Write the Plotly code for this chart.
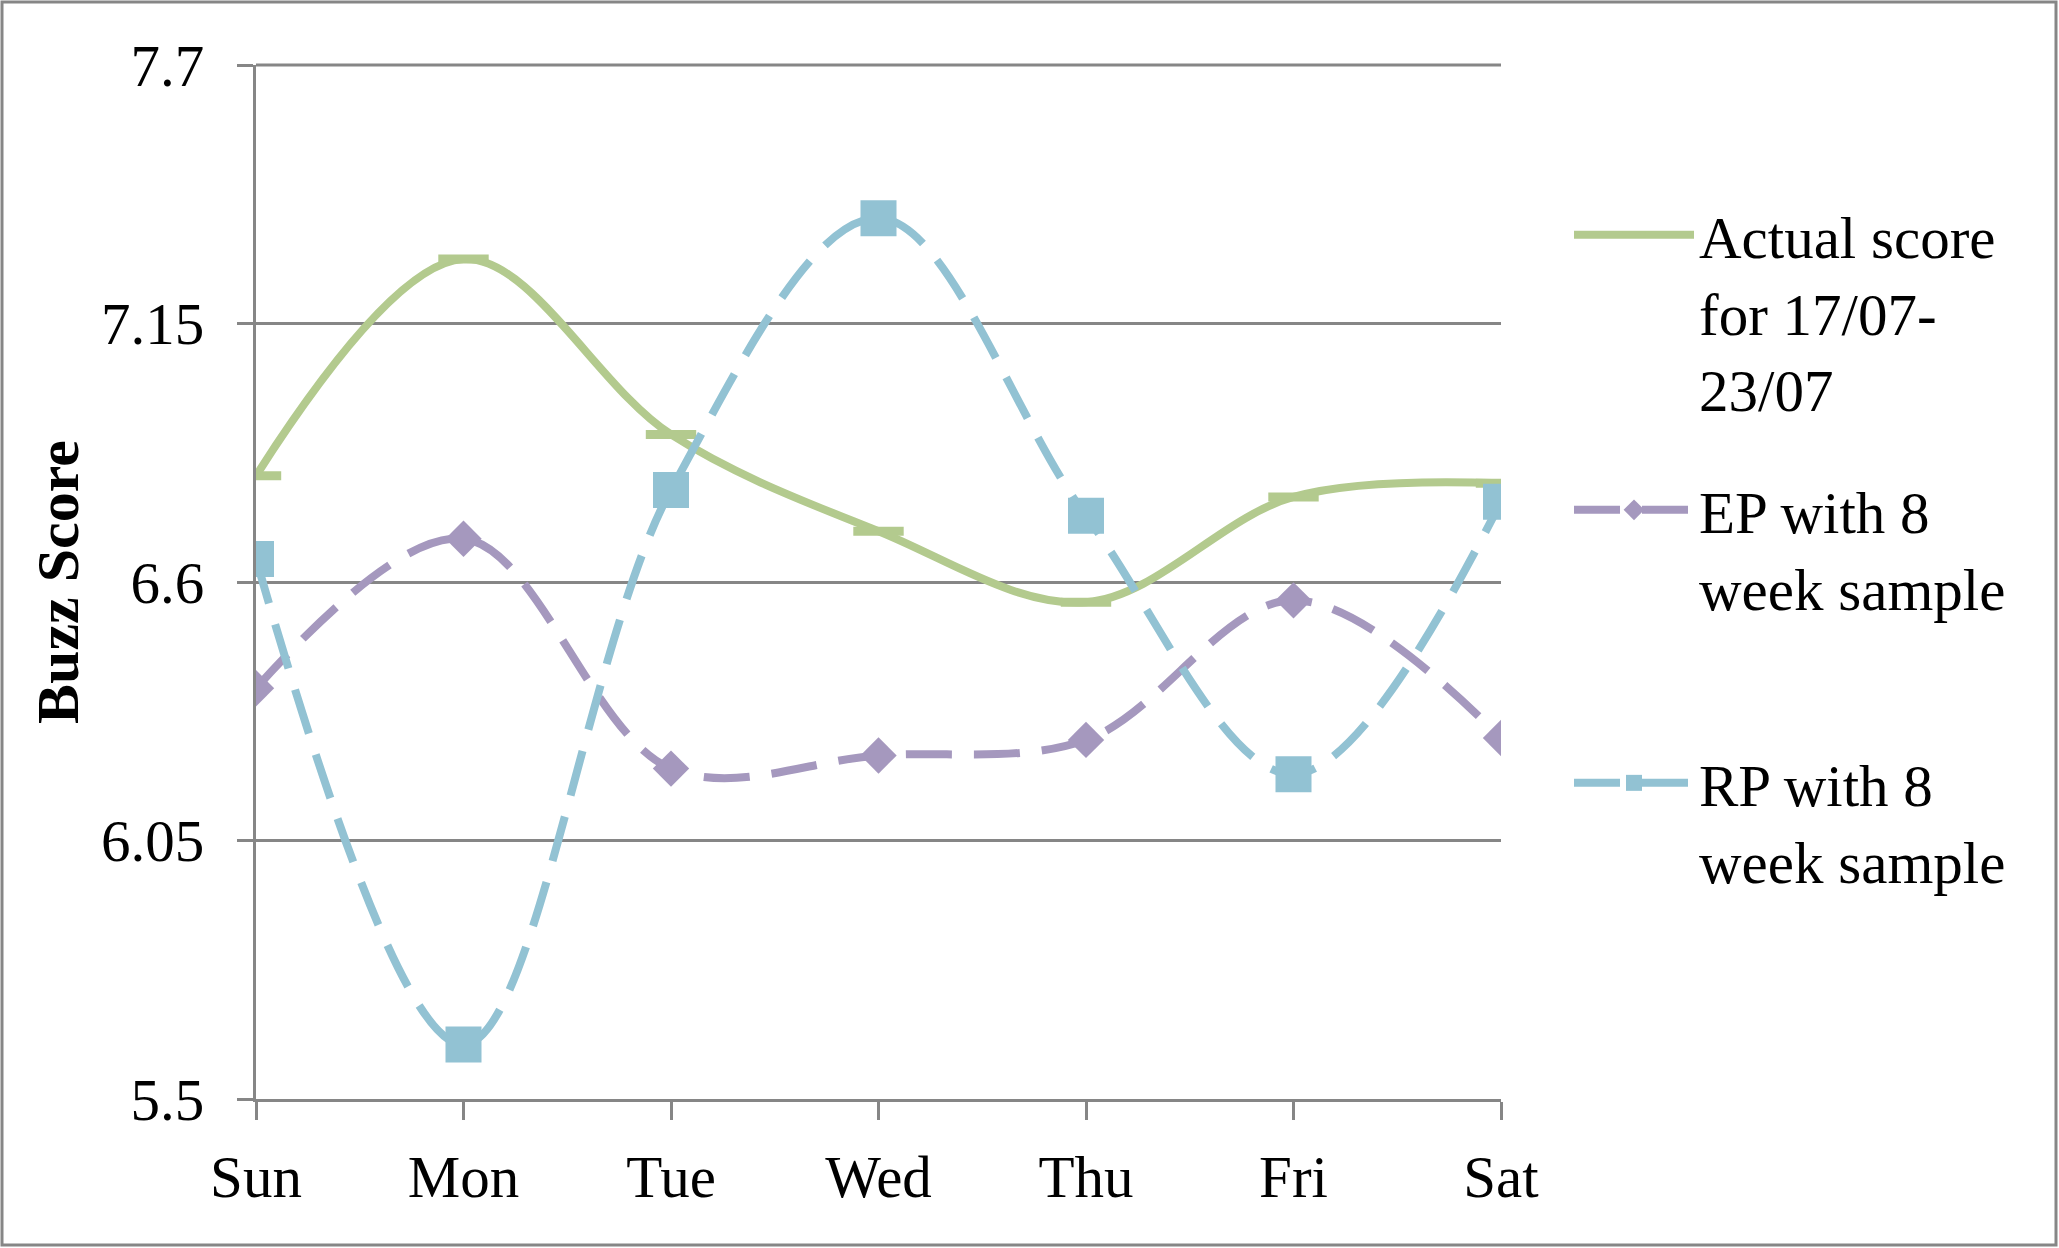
import plotly.graph_objects as go

days = ["Sun", "Mon", "Tue", "Wed", "Thu", "Fri", "Sat"]
actual = [6.826, 7.287, 6.914, 6.708, 6.557, 6.781, 6.810]
ep = [6.374, 6.692, 6.203, 6.231, 6.264, 6.561, 6.268]
rp = [6.649, 5.616, 6.796, 7.374, 6.741, 6.191, 6.771]
ytick_vals = [5.5, 6.05, 6.6, 7.15, 7.7]
ytick_text = ["5.5", "6.05", "6.6", "7.15", "7.7"]

names = ["Actual score<br>for 17/07-<br>23/07", "EP with 8<br>week sample", "RP with 8<br>week sample"]

GREEN = "#B3CA8E"
PURPLE = "#A598BE"
BLUE = "#92C2D3"
GRID = "#868686"
FONT = "Liberation Serif, Times New Roman, serif"

W, H = 2059, 1248
L, R, T, B = 256, 558, 65, 149

fig = go.Figure()
fig.add_trace(go.Scatter(
    x=days, y=actual, name=names[0], mode="lines+markers",
    line=dict(color=GREEN, width=8, shape="spline", smoothing=1),
    marker=dict(symbol="line-ew", size=36, line=dict(color=GREEN, width=9), color=GREEN),
    legend="legend", showlegend=True,
))
fig.add_trace(go.Scatter(
    x=days, y=ep, name=names[1], mode="lines+markers",
    line=dict(color=PURPLE, width=8, shape="spline", smoothing=1, dash="46px,22px"),
    marker=dict(symbol="diamond", size=28, color=PURPLE),
    legend="legend2", showlegend=True,
))
fig.add_trace(go.Scatter(
    x=days, y=rp, name=names[2], mode="lines+markers",
    line=dict(color=BLUE, width=8, shape="spline", smoothing=1, dash="46px,22px"),
    marker=dict(symbol="square", size=36, color=BLUE),
    legend="legend3", showlegend=True,
))

def px2py(py):
    return (H - B - py) / (H - T - B)

def px2px(px):
    return (px - L) / (W - L - R)

legend_common = dict(
    font=dict(family=FONT, size=59, color="black"),
    bgcolor="rgba(0,0,0,0)", borderwidth=0,
    xanchor="left", yanchor="top", valign="top",
    itemwidth=120, tracegroupgap=0,
)

fig.update_layout(
    width=W, height=H,
    showlegend=True,
    margin=dict(l=L, r=R, t=T, b=B),
    paper_bgcolor="white", plot_bgcolor="white",
    font=dict(family=FONT, size=59, color="black"),
    legend=dict(x=px2px(1569), y=px2py(190), **legend_common),
    legend2=dict(x=px2px(1569), y=px2py(465), **legend_common),
    legend3=dict(x=px2px(1569), y=px2py(738), **legend_common),
    xaxis=dict(
        type="category", range=[0, 6],
        showgrid=False, showline=True, linecolor=GRID, linewidth=3,
        ticks="outside", ticklen=18, tickwidth=3, tickcolor=GRID,
        tickfont=dict(family=FONT, size=59), ticklabelstandoff=6,
        zeroline=False,
    ),
    yaxis=dict(
        range=[5.5, 7.7], tickvals=ytick_vals, ticktext=ytick_text,
        showgrid=True, gridcolor=GRID, gridwidth=3,
        showline=True, linecolor=GRID, linewidth=3,
        ticks="outside", ticklen=16, tickwidth=3, tickcolor=GRID,
        tickfont=dict(family=FONT, size=59), ticklabelstandoff=21,
        zeroline=False,
        title=dict(text="<b>Buzz Score</b>", font=dict(family=FONT, size=60), standoff=3),
    ),
    shapes=[
        dict(
            type="rect", xref="paper", yref="paper",
            x0=px2px(2), x1=px2px(2056), y0=px2py(1245), y1=px2py(2),
            line=dict(color=GRID, width=3), fillcolor="rgba(0,0,0,0)", layer="below",
        ),
        dict(
            type="line", xref="paper", yref="paper",
            x0=0, x1=1, y0=1, y1=1,
            line=dict(color=GRID, width=3), layer="below",
        ),
    ],
)

fig.write_html("out.html", config={"displayModeBar": False},
               post_script="document.body.style.margin='0';document.body.style.overflow='hidden';")
